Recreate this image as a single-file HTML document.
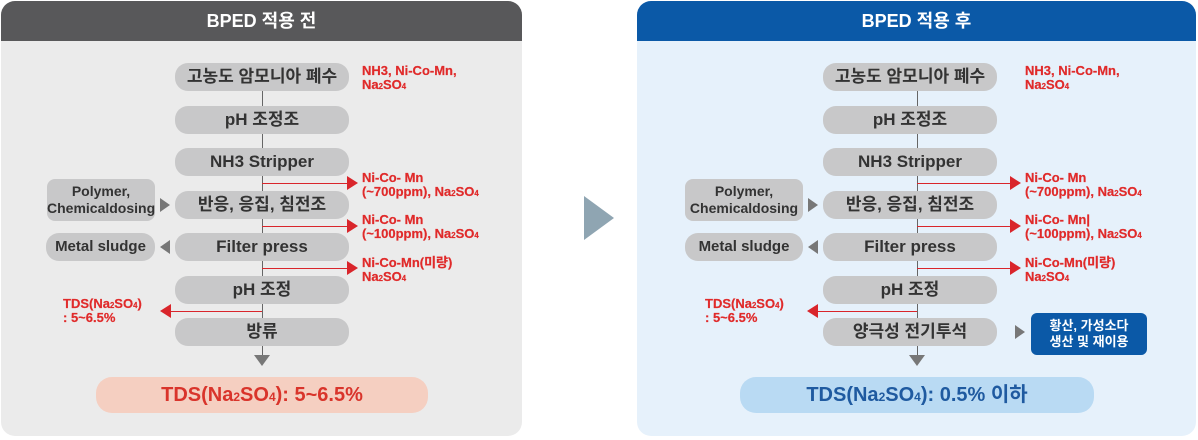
<!DOCTYPE html>
<html><head><meta charset="utf-8"><style>
body{margin:0;width:1198px;height:440px;background:#fff;position:relative;overflow:hidden;font-family:"Liberation Sans","Noto Sans CJK KR",sans-serif}
.abs{position:absolute}
.panel{position:absolute;top:1px;height:435px;border-radius:14px;overflow:hidden}
.hdr{position:absolute;left:0;right:0;top:0;height:40px;color:#fff;font-weight:bold;font-size:18px;text-align:center;line-height:40px}
.box{position:absolute;height:28px;background:#c8c8c9;border-radius:13px;color:#333;font-size:17px;text-align:center;line-height:28px;font-weight:bold}
.side{position:absolute;background:#c8c8c9;border-radius:8px;color:#333;font-size:14px;text-align:center;font-weight:bold}
.red{position:absolute;color:#e02a2a;font-size:13px;line-height:14px;font-weight:600;-webkit-text-stroke:0.2px #e02a2a}
.vl{position:absolute;width:1px;background:#666}
.rl{position:absolute;height:1px;background:#d9252b}
.tri-r{position:absolute;width:0;height:0;border-top:7px solid transparent;border-bottom:7px solid transparent;border-left:11px solid #d9252b}
.tri-l{position:absolute;width:0;height:0;border-top:7px solid transparent;border-bottom:7px solid transparent;border-right:11px solid #d9252b}
.gtr{position:absolute;width:0;height:0;border-top:7px solid transparent;border-bottom:7px solid transparent;border-left:10px solid #777}
.gtl{position:absolute;width:0;height:0;border-top:7px solid transparent;border-bottom:7px solid transparent;border-right:10px solid #777}
.gtd{position:absolute;width:0;height:0;border-left:8px solid transparent;border-right:8px solid transparent;border-top:11px solid #777}
.tds{position:absolute;height:36px;border-radius:16px;text-align:center;line-height:36px;font-size:20px;font-weight:bold}
sub{font-size:60%;vertical-align:baseline}
</style></head><body>

<div class="panel" style="left:1px;width:521px;background:#ebebeb">
<div class="hdr" style="background:#58585a">BPED 적용 전</div>
</div>
<div class="vl" style="left:262px;top:91px;height:264px"></div>
<div class="box" style="left:175px;top:63px;width:174px">고농도 암모니아 폐수</div>
<div class="box" style="left:175px;top:106px;width:174px">pH 조정조</div>
<div class="box" style="left:175px;top:148px;width:174px">NH3 Stripper</div>
<div class="box" style="left:175px;top:191px;width:174px">반응, 응집, 침전조</div>
<div class="box" style="left:175px;top:233px;width:174px">Filter press</div>
<div class="box" style="left:175px;top:276px;width:174px">pH 조정</div>
<div class="box" style="left:175px;top:318px;width:174px">방류</div>
<div class="gtd" style="left:254px;top:355px"></div>
<div class="side" style="left:47px;top:179px;width:108px;height:42px;line-height:17px;padding-top:4px;box-sizing:border-box">Polymer,<br>Chemicaldosing</div>
<div class="side" style="left:46px;top:233px;width:109px;height:28px;line-height:28px;border-radius:13px;font-size:15px">Metal sludge</div>
<div class="gtr" style="left:160px;top:198px"></div>
<div class="gtl" style="left:160px;top:240px"></div>
<div class="red" style="left:362px;top:64px">NH3, Ni-Co-Mn,<br>Na<sub>2</sub>SO<sub>4</sub></div>
<div class="rl" style="left:262px;top:183px;width:88px"></div><div class="tri-r" style="left:347px;top:176px"></div>
<div class="red" style="left:362px;top:171px">Ni-Co- Mn<br>(~700ppm), Na<sub>2</sub>SO<sub>4</sub></div>
<div class="rl" style="left:262px;top:226px;width:88px"></div><div class="tri-r" style="left:347px;top:219px"></div>
<div class="red" style="left:362px;top:213px">Ni-Co- Mn<br>(~100ppm), Na<sub>2</sub>SO<sub>4</sub></div>
<div class="rl" style="left:262px;top:268px;width:88px"></div><div class="tri-r" style="left:347px;top:261px"></div>
<div class="red" style="left:362px;top:256px">Ni-Co-Mn(미량)<br>Na<sub>2</sub>SO<sub>4</sub></div>
<div class="rl" style="left:170px;top:311px;width:92px"></div><div class="tri-l" style="left:160px;top:304px"></div>
<div class="red" style="left:63px;top:298px;line-height:12px">TDS(Na<sub>2</sub>SO<sub>4</sub>)<br>: 5~6.5%</div>
<div class="tds" style="left:96px;top:377px;width:332px;background:#f5cfc1;color:#d9342b">TDS(Na<sub>2</sub>SO<sub>4</sub>): 5~6.5%</div>

<div class="abs" style="left:584px;top:196px;width:0;height:0;border-top:22px solid transparent;border-bottom:22px solid transparent;border-left:30px solid #8fa5b2"></div>

<div class="panel" style="left:637px;width:559px;background:#e6f1fb">
<div class="hdr" style="background:#0b59a7">BPED 적용 후</div>
</div>
<div class="vl" style="left:917px;top:91px;height:264px"></div>
<div class="box" style="left:823px;top:63px;width:174px">고농도 암모니아 폐수</div>
<div class="box" style="left:823px;top:106px;width:174px">pH 조정조</div>
<div class="box" style="left:823px;top:148px;width:174px">NH3 Stripper</div>
<div class="box" style="left:823px;top:191px;width:174px">반응, 응집, 침전조</div>
<div class="box" style="left:823px;top:233px;width:174px">Filter press</div>
<div class="box" style="left:823px;top:276px;width:174px">pH 조정</div>
<div class="box" style="left:823px;top:318px;width:174px">양극성 전기투석</div>
<div class="gtd" style="left:909px;top:355px"></div>
<div class="side" style="left:685px;top:179px;width:118px;height:42px;line-height:17px;padding-top:4px;box-sizing:border-box">Polymer,<br>Chemicaldosing</div>
<div class="side" style="left:685px;top:233px;width:118px;height:28px;line-height:28px;border-radius:13px;font-size:15px">Metal sludge</div>
<div class="gtr" style="left:808px;top:198px"></div>
<div class="gtl" style="left:808px;top:240px"></div>
<div class="gtr" style="left:1015px;top:325px"></div>
<div class="abs" style="left:1031px;top:313px;width:116px;height:42px;background:#0b59a7;border-radius:6px;color:#fff;font-size:13px;font-weight:bold;text-align:center;line-height:16px;padding-top:5px;box-sizing:border-box">황산, 가성소다<br>생산 및 재이용</div>
<div class="red" style="left:1025px;top:64px">NH3, Ni-Co-Mn,<br>Na<sub>2</sub>SO<sub>4</sub></div>
<div class="rl" style="left:917px;top:183px;width:96px"></div><div class="tri-r" style="left:1010px;top:176px"></div>
<div class="red" style="left:1025px;top:171px">Ni-Co- Mn<br>(~700ppm), Na<sub>2</sub>SO<sub>4</sub></div>
<div class="rl" style="left:917px;top:226px;width:96px"></div><div class="tri-r" style="left:1010px;top:219px"></div>
<div class="red" style="left:1025px;top:213px">Ni-Co- Mn|<br>(~100ppm), Na<sub>2</sub>SO<sub>4</sub></div>
<div class="rl" style="left:917px;top:268px;width:96px"></div><div class="tri-r" style="left:1010px;top:261px"></div>
<div class="red" style="left:1025px;top:256px">Ni-Co-Mn(미량)<br>Na<sub>2</sub>SO<sub>4</sub></div>
<div class="rl" style="left:817px;top:311px;width:100px"></div><div class="tri-l" style="left:807px;top:304px"></div>
<div class="red" style="left:705px;top:298px;line-height:12px">TDS(Na<sub>2</sub>SO<sub>4</sub>)<br>: 5~6.5%</div>
<div class="tds" style="left:740px;top:377px;width:354px;background:#b9daf3;color:#1f5aa0">TDS(Na<sub>2</sub>SO<sub>4</sub>): 0.5% 이하</div>
</body></html>
